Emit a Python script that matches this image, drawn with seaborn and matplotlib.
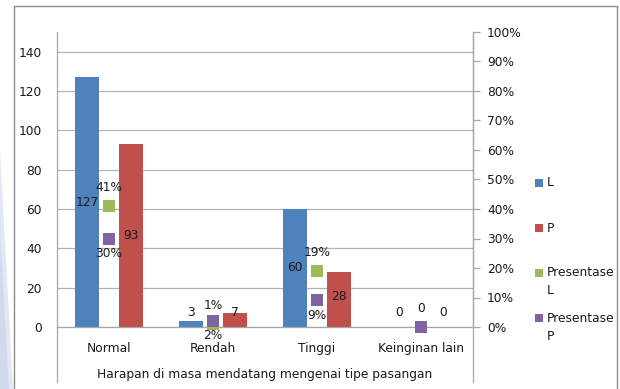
import numpy as np
import pandas as pd
import matplotlib
matplotlib.use("Agg")
import matplotlib.pyplot as plt
from matplotlib.patches import Rectangle, Polygon
from matplotlib.lines import Line2D
import seaborn as sns

# ---- data ----
categories = ["Normal", "Rendah", "Tinggi", "Keinginan lain"]
values_L = [127, 3, 60, 0]
values_P = [93, 7, 28, 0]
pct_L = [41, 1, 19, 0]
pct_P = [30, 2, 9, 0]
series_names = ["L", "P", "Presentase\nL", "Presentase\nP"]
left_ticks = [0, 20, 40, 60, 80, 100, 120, 140]
right_ticks = [0, 10, 20, 30, 40, 50, 60, 70, 80, 90, 100]
x_title = "Harapan di masa mendatang mengenai tipe pasangan"

# ---- styles ----
C_BLUE, C_RED, C_GREEN, C_PURPLE = "#4f81bd", "#c0504d", "#9bbb59", "#8064a2"
GRID = "#b3b3b3"
AXC = "#a6a6a6"
TXT = "#1a1a1a"
W, H = 620, 389

sns.set_style("white")
plt.rcParams["font.family"] = ["DejaVu Sans"]
plt.rcParams["font.size"] = 8.8

fig = plt.figure(figsize=(W / 100, H / 100), dpi=100)

def fx(x):
    return x / W

def fy(y):
    return 1 - y / H

# left slide decoration
fig.patches.append(Polygon([(fx(0), fy(150)), (fx(13), fy(389)), (fx(0), fy(389))],
                           closed=True, transform=fig.transFigure,
                           facecolor="#e3e7f3", edgecolor="none", zorder=0))
fig.patches.append(Polygon([(fx(0), fy(230)), (fx(9), fy(389)), (fx(0), fy(389))],
                           closed=True, transform=fig.transFigure,
                           facecolor="#d3d9ec", edgecolor="none", zorder=0))
# outer frame
fig.patches.append(Rectangle((fx(14), fy(395)), fx(617 - 14), (395 - 6) / H,
                             transform=fig.transFigure, facecolor="none",
                             edgecolor="#8c8c8c", linewidth=1.0, zorder=1))

ax = fig.add_axes([fx(57), fy(327), fx(473 - 57), (327 - 32) / H])
ax.set_facecolor("none")

df = pd.DataFrame({
    "cat": categories * 2,
    "val": values_L + values_P,
    "series": ["L"] * len(categories) + ["P"] * len(categories),
})
bar_width = 0.846
sns.barplot(data=df, x="cat", y="val", hue="series", palette=[C_BLUE, C_RED],
            width=bar_width, gap=0.454, saturation=1, linewidth=0,
            legend=False, ax=ax, zorder=2)
ax.set_xlim(-0.5, len(categories) - 0.5)
ax.set_ylim(0, 150)
ax.set_yticks(left_ticks)
ax.set_yticklabels([str(t) for t in left_ticks], color=TXT)
ax.yaxis.grid(True, color=GRID, linewidth=0.9)
ax.set_axisbelow(True)
ax.tick_params(axis="y", length=0, pad=11)
ax.tick_params(axis="x", length=0, pad=11, colors=TXT)
ax.set_xlabel(x_title, color=TXT, labelpad=9)
ax.set_ylabel("")
ax.spines["top"].set_visible(False)
for s in ["left", "bottom", "right"]:
    ax.spines[s].set_color(AXC)
    ax.spines[s].set_linewidth(0.9)

ax2 = ax.twinx()
xpos = np.arange(len(categories))
sns.scatterplot(x=xpos, y=np.array(pct_L) / 100, marker="s", s=68, color=C_GREEN,
                linewidth=0, ax=ax2, zorder=3, clip_on=False)
sns.scatterplot(x=xpos, y=np.array(pct_P) / 100, marker="s", s=68, color=C_PURPLE,
                linewidth=0, ax=ax2, zorder=4, clip_on=False)
ax2.set_ylim(0, 1)
ax2.set_yticks([t / 100 for t in right_ticks])
ax2.set_yticklabels([f"{t}%" for t in right_ticks], color=TXT)
ax2.tick_params(axis="y", length=5, width=0.9, color=AXC, pad=5)
ax2.set_ylabel("")
for s in ["top", "left", "bottom"]:
    ax2.spines[s].set_visible(False)
ax2.spines["right"].set_color(AXC)
ax2.spines["right"].set_linewidth(0.9)

# data labels
off = bar_width / 4
for i in range(len(categories)):
    yl = max(pct_L[i], 3.7) / 100
    yp = max(pct_P[i], 3.7) / 100
    ax2.annotate(str(values_L[i]), (xpos[i] - off, yl), xytext=(0, 2.5),
                 textcoords="offset points", ha="center", va="center", color=TXT, zorder=5)
    ax2.annotate(str(values_P[i]), (xpos[i] + off, yp), xytext=(0, 2.5),
                 textcoords="offset points", ha="center", va="center", color=TXT, zorder=5)
    ax2.annotate(f"{pct_L[i]}%" if pct_L[i] else "0", (xpos[i], pct_L[i] / 100),
                 xytext=(0, 13.5), textcoords="offset points",
                 ha="center", va="center", color=TXT, zorder=5)
    if pct_P[i]:
        ax2.annotate(f"{pct_P[i]}%", (xpos[i], pct_P[i] / 100),
                     xytext=(0, -10.5), textcoords="offset points",
                     ha="center", va="center", color=TXT, zorder=5)

# axis lines extending below the plot area
for xx in (57, 473):
    fig.add_artist(Line2D([fx(xx), fx(xx)], [fy(327), fy(382)],
                          transform=fig.transFigure, color=AXC, linewidth=0.9))

# legend (manual, handle aligned with first text line)
leg_colors = [C_BLUE, C_RED, C_GREEN, C_PURPLE]
for k, (name, col) in enumerate(zip(series_names, leg_colors)):
    cy = 183 + 45 * k
    fig.patches.append(Rectangle((fx(535), fy(cy + 4)), fx(8), 8 / H,
                                 transform=fig.transFigure, facecolor=col,
                                 edgecolor="none"))
    for j, line in enumerate(name.split("\n")):
        fig.text(fx(547), fy(cy + 18 * j), line, ha="left", va="center", color=TXT)

fig.savefig("out.png", dpi=100, facecolor="white")
